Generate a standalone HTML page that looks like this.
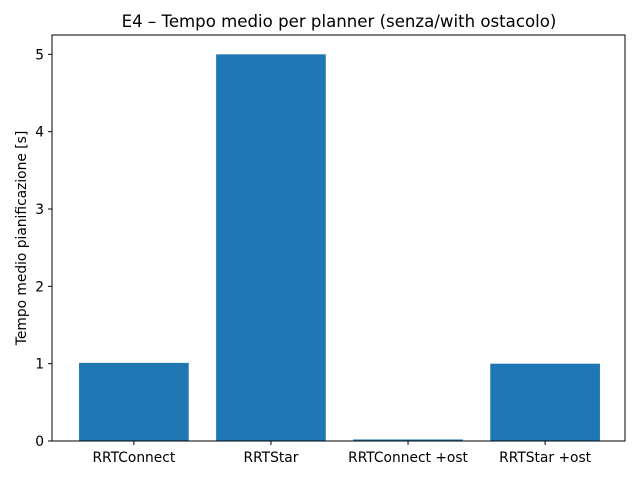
<!DOCTYPE html>
<html><head><meta charset="utf-8"><style>
body{margin:0;background:#fff;}
svg{display:block;font-family:"DejaVu Sans","Liberation Sans",sans-serif;}
</style></head><body>
<svg id="chart" width="640" height="480">
<text x="339" y="27" text-anchor="middle" font-size="16.6">E4 – Tempo medio per planner (senza/with ostacolo)</text>
<text transform="translate(26,238) rotate(-90)" text-anchor="middle" font-size="13.8">Tempo medio pianificazione [s]</text>
<g id="bars"></g><g id="yticks"></g><g id="xticks"></g>
<rect x="52" y="35" width="573" height="406" fill="none" stroke="#000" stroke-width="1"/>
</svg>
<script>
const categories = ["RRTConnect","RRTStar","RRTConnect +ost","RRTStar +ost"];
const values = [1.01, 5.0, 0.02, 1.0];
const yTicks = [0,1,2,3,4,5];
const L=52,R=625,T=35,B=441,ymax=5.25;
const ns="http://www.w3.org/2000/svg";
const y=v=>B-(v/ymax)*(B-T);
const n=categories.length;
const span=(n-1)+0.8, margin=span*0.05, tot=span+2*margin;
const X=i=>L+1+(R-L)*((i+0.4+margin)/tot);
const bw=(R-L)*0.8/tot;
function mk(t,a,p){const e=document.createElementNS(ns,t);for(const k in a)e.setAttribute(k,a[k]);p.appendChild(e);return e;}
const gb=document.getElementById('bars'),gy=document.getElementById('yticks'),gx=document.getElementById('xticks');
values.forEach((v,i)=>{
 const r=mk('rect',{x:X(i)-bw/2,y:y(v),width:bw,height:B-y(v),fill:'#1f77b4'},gb);
 
 
 mk('line',{x1:X(i),x2:X(i),y1:B,y2:B+4,stroke:'#000'},gx);
 const t=mk('text',{x:X(i),y:B+21,'text-anchor':'middle','font-size':13.8},gx);
 t.textContent=categories[i];
 
 
});
yTicks.forEach(v=>{
 mk('line',{x1:L-4,x2:L,y1:y(v),y2:y(v),stroke:'#000'},gy);
 const t=mk('text',{x:L-8,y:y(v)+5,'text-anchor':'end','font-size':13.8},gy);
 t.textContent=v;
 
 
});
</script>
</body></html>
